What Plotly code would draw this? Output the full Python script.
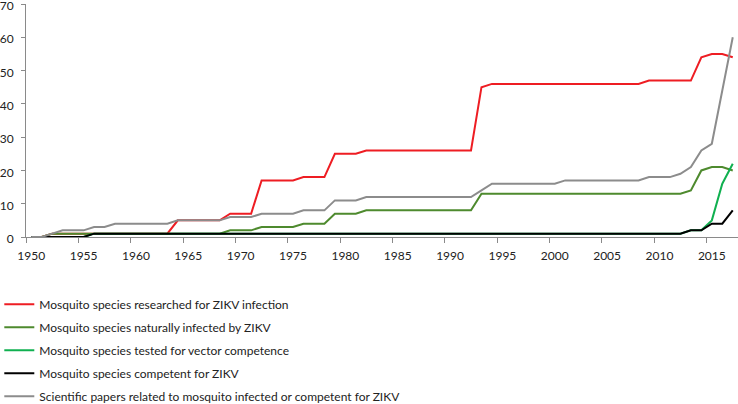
import plotly.graph_objects as go

years = list(range(1950, 2018))

researched = [0, 0, 1, 1, 1, 1, 1, 1, 1, 1, 1, 1, 1, 1,
              5, 5, 5, 5, 5, 7, 7, 7, 17, 17, 17, 17, 18, 18, 18, 25, 25, 25,
              26, 26, 26, 26, 26, 26, 26, 26, 26, 26, 26,
              45, 46, 46, 46, 46, 46, 46, 46, 46, 46, 46, 46, 46, 46, 46, 46,
              47, 47, 47, 47, 47, 54, 55, 55, 54]

naturally_infected = [0, 0, 1, 1, 1, 1, 1, 1, 1, 1, 1, 1, 1, 1, 1, 1, 1, 1, 1,
                      2, 2, 2, 3, 3, 3, 3, 4, 4, 4, 7, 7, 7,
                      8, 8, 8, 8, 8, 8, 8, 8, 8, 8, 8,
                      13, 13, 13, 13, 13, 13, 13, 13, 13, 13, 13, 13, 13, 13, 13, 13, 13, 13, 13, 13,
                      14, 20, 21, 21, 20]

tested_competence = [0, 0, 0, 0, 0, 0,
                     1, 1, 1, 1, 1, 1, 1, 1, 1, 1, 1, 1, 1, 1, 1, 1, 1, 1, 1, 1,
                     1, 1, 1, 1, 1, 1, 1, 1, 1, 1, 1, 1, 1, 1, 1, 1, 1, 1, 1, 1,
                     1, 1, 1, 1, 1, 1, 1, 1, 1, 1, 1, 1, 1, 1, 1, 1, 1,
                     2, 2, 5, 16, 22]

competent = [0, 0, 0, 0, 0, 0,
             1, 1, 1, 1, 1, 1, 1, 1, 1, 1, 1, 1, 1, 1, 1, 1, 1, 1, 1, 1,
             1, 1, 1, 1, 1, 1, 1, 1, 1, 1, 1, 1, 1, 1, 1, 1, 1, 1, 1, 1,
             1, 1, 1, 1, 1, 1, 1, 1, 1, 1, 1, 1, 1, 1, 1, 1, 1,
             2, 2, 4, 4, 8]

papers = [0, 0, 1, 2, 2, 2, 3, 3, 4, 4, 4, 4, 4, 4, 5, 5, 5, 5, 5,
          6, 6, 6, 7, 7, 7, 7, 8, 8, 8, 11, 11, 11,
          12, 12, 12, 12, 12, 12, 12, 12, 12, 12, 12,
          14, 16, 16, 16, 16, 16, 16, 16, 17, 17, 17, 17, 17, 17, 17, 17,
          18, 18, 18, 19, 21, 26, 28, 44, 60]

series = [
    ("Mosquito species researched for ZIKV infection", researched, "#ee1d23"),
    ("Mosquito species naturally infected by ZIKV", naturally_infected, "#4e8a2e"),
    ("Mosquito species tested for vector competence", tested_competence, "#10b050"),
    ("Mosquito species competent for ZIKV", competent, "#000000"),
    ("Scientific papers related to mosquito infected or competent for ZIKV", papers, "#8c8c8c"),
]

x_tick_vals = [1950, 1955, 1960, 1965, 1970, 1975, 1980, 1985, 1990, 1995, 2000, 2005, 2010, 2015]
y_tick_vals = [0, 10, 20, 30, 40, 50, 60, 70]

fig = go.Figure()
for i, (name, vals, color) in enumerate(series):
    fig.add_trace(go.Scatter(x=years, y=vals, name=name, mode="lines",
                             line=dict(color=color, width=2),
                             legendgroup="g%d" % i))

fam = "Lato, 'Open Sans', sans-serif"

fig.update_layout(
    width=738, height=404,
    margin=dict(l=26, r=0, t=4, b=167, autoexpand=False),
    paper_bgcolor="white", plot_bgcolor="white",
    font=dict(family=fam, size=12, color="#222222"),
    showlegend=True,
    legend=dict(x=-0.0375, xanchor="left", y=-0.226, yanchor="top",
                traceorder="grouped", tracegroupgap=4,
                font=dict(family=fam, size=12, color="#222222"),
                bgcolor="rgba(0,0,0,0)"),
    xaxis=dict(range=[1949.5, 2017.5], tickvals=x_tick_vals,
               ticktext=[str(v) for v in x_tick_vals],
               showgrid=False, zeroline=False, showline=True,
               linecolor="#8a8a8a", linewidth=1, ticks="",
               ticklabelstandoff=8, automargin=False,
               ticklabeloverflow="allow",
               minor=dict(ticks="outside", ticklen=5, tick0=1949.5, dtick=5,
                          tickcolor="#8a8a8a", showgrid=False)),
    yaxis=dict(range=[0, 70], tickvals=y_tick_vals,
               showgrid=False, zeroline=False, showline=True,
               linecolor="#8a8a8a", linewidth=1,
               ticks="outside", ticklen=4, tickcolor="#8a8a8a",
               ticklabelstandoff=5, ticklabelshift=2, automargin=False,
               ticklabeloverflow="allow"),
)

fig.write_html("out.html", config={"displayModeBar": False},
               post_script="document.body.style.margin='0';")
